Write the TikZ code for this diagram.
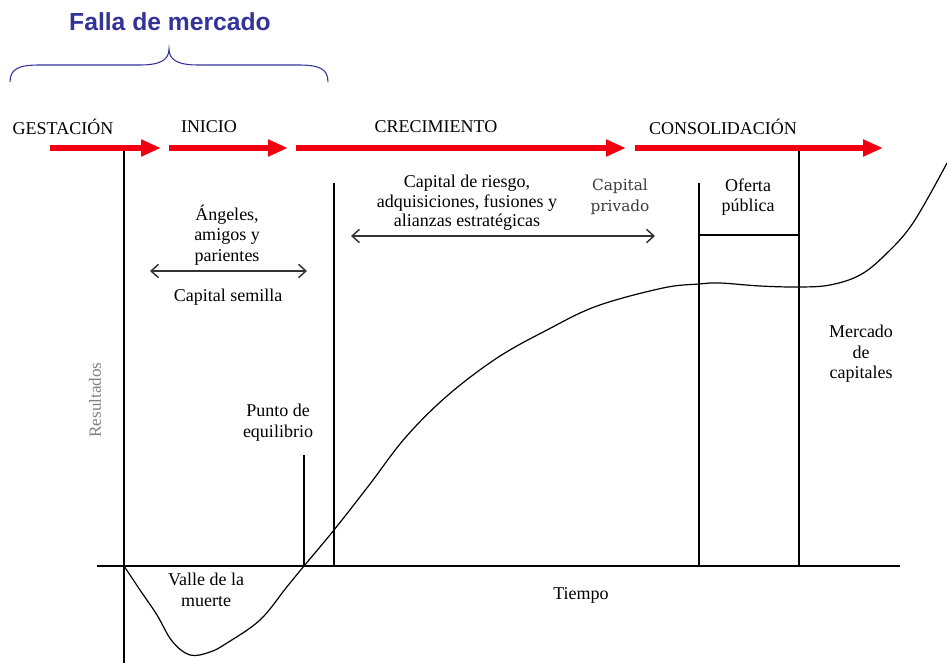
\documentclass[tikz,border=0pt]{standalone}
\usepackage{fontspec}
\setmainfont{Liberation Serif}
\newfontfamily\sansbold{Liberation Sans}
\newfontfamily\grayserif{DejaVu Serif}
\usetikzlibrary{arrows.meta}
\definecolor{redc}{RGB}{240,0,16}
\definecolor{bluec}{RGB}{51,51,153}
\definecolor{grayc}{RGB}{60,60,60}
\tikzset{
  lbl/.style={font=\fontsize{13.5}{15.5}\selectfont, align=center, inner sep=0pt},
  lbltight/.style={font=\fontsize{13.5}{14.6}\selectfont, align=center, inner sep=0pt},
  redarrow/.style={draw=redc, line width=4.5pt, -{Triangle[length=15pt,width=12pt]}},
  dblarrow/.style={draw=black!80, line width=1.1pt, {Straight Barb[length=5.5pt,width=10pt]}-{Straight Barb[length=5.5pt,width=10pt]}},
  axisline/.style={draw=black, line width=0.8pt},
  curveline/.style={draw=black, line width=0.9pt}
}
\begin{document}
\begin{tikzpicture}[x=0.75pt,y=-0.75pt]
\useasboundingbox (0,0) rectangle (947,663);
% title and brace
\node[font=\sansbold\bfseries\fontsize{18.5}{20}\selectfont, text=bluec, inner sep=0pt] (falla) at (170,22) {Falla de mercado};
\draw[bluec, line width=0.8pt] (10,82) .. controls (10,68) and (20,65) .. (40,65) -- (140,65) .. controls (160,65) and (169,60) .. (169,49) .. controls (169,60) and (178,65) .. (198,65) -- (298,65) .. controls (318,65) and (328,68) .. (328,82);
% phase labels
\node[lbl] (gest) at (63,127) {GESTACIÓN};
\node[lbl] (ini) at (209,127) {INICIO};
\node[lbl] (crec) at (436,127) {CRECIMIENTO};
\node[lbl] (cons) at (723,127) {CONSOLIDACIÓN};
% red arrows
\coordinate (r1a) at (50,148); \coordinate (r1b) at (161,148);
\coordinate (r2a) at (169,148); \coordinate (r2b) at (288,148);
\coordinate (r3a) at (296,148); \coordinate (r3b) at (626,148);
\coordinate (r4a) at (635,148); \coordinate (r4b) at (883,148);
\draw[redarrow] (r1a) -- (r1b);
\draw[redarrow] (r2a) -- (r2b);
\draw[redarrow] (r3a) -- (r3b);
\draw[redarrow] (r4a) -- (r4b);
% axes and vertical lines
\coordinate (ax0) at (97,566); \coordinate (ax1) at (900,566);
\draw[axisline] (ax0) -- (ax1);
\draw[axisline] (124,151) -- (124,663);
\draw[axisline] (334,183) -- (334,566);
\draw[axisline] (304,455) -- (304,566);
\draw[axisline] (699,183) -- (699,566);
\draw[axisline] (799,151) -- (799,566);
\draw[axisline] (699,235) -- (799,235);
% double arrows
\coordinate (d1a) at (150,271); \coordinate (d1b) at (307,271);
\coordinate (d2a) at (351,236); \coordinate (d2b) at (655,236);
\draw[dblarrow] (d1a) -- (d1b);
\draw[dblarrow] (d2a) -- (d2b);
% texts
\node[lbl] (angeles) at (227,235) {Ángeles,\\amigos y\\parientes};
\node[lbl] (semilla) at (228,297) {Capital semilla};
\node[lbltight] (riesgo) at (467,203) {Capital de riesgo,\\adquisiciones, fusiones y\\alianzas estratégicas};
\node[font=\grayserif\fontsize{11.5}{15.5}\selectfont, text=grayc, align=center, inner sep=0pt] (privado) at (620,197) {Capital\\privado};
\node[lbl] (oferta) at (748,197) {Oferta\\pública};
\node[lbl] (mercado) at (861,354) {Mercado\\de\\capitales};
\node[lbl] (punto) at (278,423) {Punto de\\equilibrio};
\node[lbl] (valle) at (206,590) {Valle de la\\muerte};
\node[lbl] (tiempo) at (581,595) {Tiempo};
\node[lbl, text=black!50, rotate=90, font=\fontsize{12.8}{14}\selectfont] (result) at (95,400) {Resultados};
% curve
\draw[curveline] plot[smooth, tension=0.6] coordinates {
 (124,566) (140,590) (157,615) (172,641) (190,655) (210,652) (227,643) (260,620) (286,588) (304,566) (334,530)
 (370,484) (405,438) (447,396) (497,358) (547,330) (597,306) (663,288) (699,284) (720,283) (760,286) (799,287) (830,285) (860,275) (885,255) (913,223) (947,163)};
\end{tikzpicture}
\end{document}
